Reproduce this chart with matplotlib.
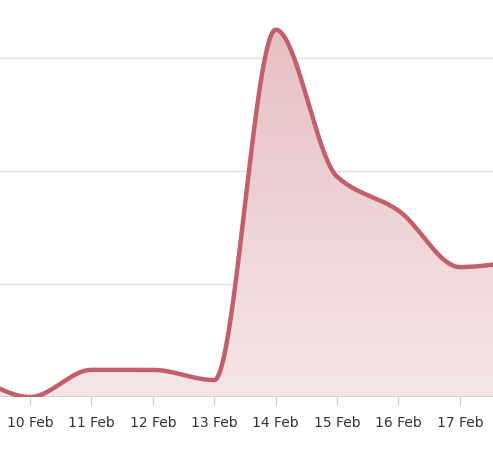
import numpy as np
import matplotlib
matplotlib.use("Agg")
import matplotlib.pyplot as plt
from matplotlib.patches import Polygon

days = [9, 10, 11, 12, 13, 14, 15, 16, 17, 18]
values = [0.2, 0.0, 0.24, 0.24, 0.15, 3.25, 1.95, 1.65, 1.15, 1.2]
tick_days = [10, 11, 12, 13, 14, 15, 16, 17]
tick_labels = ["10 Feb", "11 Feb", "12 Feb", "13 Feb", "14 Feb", "15 Feb", "16 Feb", "17 Feb"]

def pchip(x, y, xs):
    x = np.asarray(x, float); y = np.asarray(y, float)
    h = np.diff(x); d = np.diff(y) / h
    m = np.zeros_like(y)
    for i in range(1, len(y) - 1):
        if d[i-1] * d[i] > 0:
            w1 = 2*h[i] + h[i-1]; w2 = h[i] + 2*h[i-1]
            m[i] = (w1 + w2) / (w1/d[i-1] + w2/d[i])
    m[0] = d[0]; m[-1] = d[-1]
    idx = np.clip(np.searchsorted(x, xs) - 1, 0, len(x) - 2)
    t = (xs - x[idx]) / h[idx]
    h00 = 2*t**3 - 3*t**2 + 1; h10 = t**3 - 2*t**2 + t
    h01 = -2*t**3 + 3*t**2; h11 = t**3 - t**2
    return h00*y[idx] + h10*h[idx]*m[idx] + h01*y[idx+1] + h11*h[idx]*m[idx+1]

xs = np.linspace(days[0], days[-1], 800)
ys = pchip(days, values, xs)

fig = plt.figure(figsize=(4.93, 4.62), dpi=100)
ax = fig.add_axes([0, 397/462*0 + 65/462, 1, 397/462])
x0, x1 = 9.51, 17.54
ymax = 397/113
ax.set_xlim(x0, x1); ax.set_ylim(0, ymax)

grad = np.linspace(0, 1, 256).reshape(-1, 1)
from matplotlib.colors import LinearSegmentedColormap
cmap = LinearSegmentedColormap.from_list("g", ["#f6e6e8", "#e6bfc4"])
im = ax.imshow(grad, extent=[x0, x1, 0, 3.3], origin="lower", aspect="auto", cmap=cmap, zorder=1)
poly = Polygon(np.column_stack([np.r_[xs, xs[-1], xs[0]], np.r_[ys, 0, 0]]), closed=True,
               facecolor="none", edgecolor="none")
ax.add_patch(poly)
im.set_clip_path(poly)

for g in [1, 2, 3]:
    ax.axhline(g, color="#e0e0e0", lw=1, zorder=0)
ax.plot(xs, ys, color="#c25f6a", lw=3.2, zorder=3, solid_capstyle="round")
ax.axhline(0, color="#cccccc", lw=1.2, zorder=2)

for s in ax.spines.values():
    s.set_visible(False)
ax.set_yticks([])
ax.set_xticks(tick_days)
ax.set_xticklabels(tick_labels, fontsize=10, color="#333333")
ax.tick_params(axis="x", length=6, color="#cccccc", pad=8)
fig.savefig("out.png", dpi=100)
